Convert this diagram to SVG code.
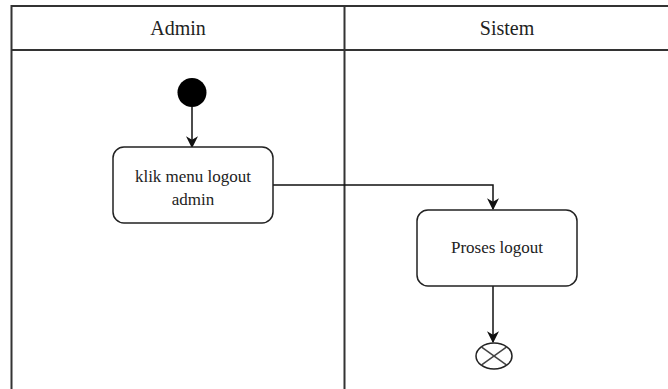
<svg xmlns="http://www.w3.org/2000/svg" width="668" height="389" viewBox="0 0 668 389">
<style>
.lane{fill:none;stroke:#333;stroke-width:2}
.node{fill:#fff;stroke:#222;stroke-width:1.5}
.t{font-family:"Liberation Serif",Tinos,"Times New Roman","DejaVu Serif",serif;fill:#222;text-anchor:middle}
.hdr{font-size:20px}
.lbl{font-size:17px}
.edge{fill:none;stroke:#111;stroke-width:1.5;marker-end:url(#arr)}
</style>
<defs>
<marker id="arr" viewBox="0 0 10 10" refX="9" refY="5" markerWidth="12" markerHeight="12" markerUnits="userSpaceOnUse" orient="auto">
<path d="M0,0 L10,5 L0,10 L3,5 Z" fill="#111"/>
</marker>
</defs>
<rect width="668" height="389" fill="#fff"/>
<g id="pool">
<rect class="lane" x="11.5" y="6" width="660" height="390"/>
<line class="lane" x1="11.5" y1="50" x2="668" y2="50"/>
<line class="lane" x1="344.5" y1="6" x2="344.5" y2="389"/>
<text class="t hdr" x="178" y="35" font-family="Liberation Serif, serif">Admin</text>
<text class="t hdr" x="507" y="35" font-family="Liberation Serif, serif">Sistem</text>
</g>
<g id="connectors">
<line class="edge" x1="192" y1="107" x2="192" y2="147"/>
<polyline class="edge" points="273,185 493,185 493,209"/>
<line class="edge" x1="493" y1="286" x2="493" y2="342"/>
</g>
<g id="start">
<circle cx="192" cy="92.5" r="14.5" fill="#000"/>
</g>
<g id="klik">
<rect class="node" x="113" y="147" width="160" height="76" rx="11"/>
<text class="t lbl" x="193" y="182">klik menu logout</text>
<text class="t lbl" x="193" y="205">admin</text>
</g>
<g id="proses">
<rect class="node" x="417" y="210" width="160" height="76" rx="11"/>
<text class="t lbl" x="497" y="253">Proses logout</text>
</g>
<g id="end">
<ellipse cx="494" cy="356" rx="18" ry="13" fill="#fff" stroke="#222" stroke-width="1.5"/>
<line x1="481.3" y1="346.8" x2="506.7" y2="365.2" stroke="#444" stroke-width="1.5"/>
<line x1="506.7" y1="346.8" x2="481.3" y2="365.2" stroke="#444" stroke-width="1.5"/>
</g>
</svg>
